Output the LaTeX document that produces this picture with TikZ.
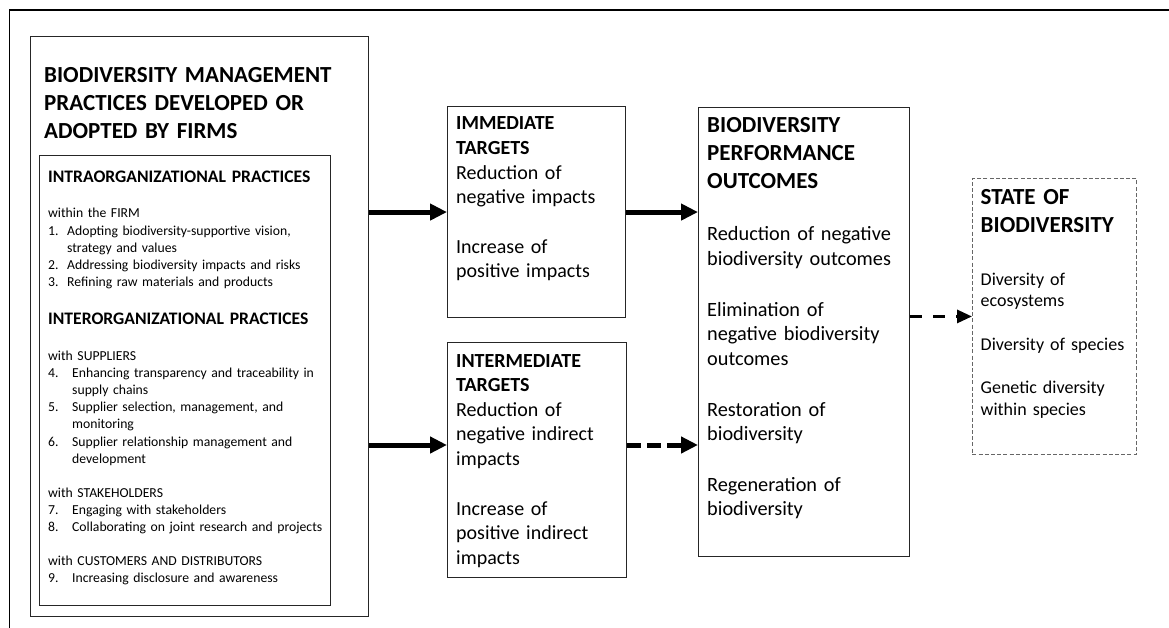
\documentclass[tikz,border=0pt]{standalone}
\usepackage{fontspec}
\setmainfont{Carlito}
\usetikzlibrary{arrows.meta}
\begin{document}
\begin{tikzpicture}[x=1pt,y=-1pt,
  box/.style={draw=black!85, line width=1.1pt, inner sep=0pt, anchor=north west},
  dbox/.style={draw=black!60, line width=0.9pt, dash pattern=on 4pt off 2.2pt, inner sep=0pt, anchor=north west},
  txt/.style={inner sep=0pt, anchor=base west, text width=#1},
  bigtitle/.style={txt=#1, font=\fontsize{23}{28}\selectfont\bfseries},
  subhead/.style={txt=#1, font=\fontsize{17.6}{20}\selectfont\bfseries},
  listtext/.style={txt=#1, font=\fontsize{13.7}{17.2}\selectfont},
  midtext/.style={txt=#1, font=\fontsize{20}{24.6}\selectfont},
  smalltext/.style={txt=#1, font=\fontsize{18}{21.7}\selectfont},
  thickarrow/.style={line width=5pt, -{Triangle[length=17pt,width=16pt]}},
  thickdash/.style={thickarrow, dash pattern=on 14pt off 6pt},
  thindash/.style={line width=3pt, dash pattern=on 12pt off 11pt, -{Triangle[length=15pt,width=13pt]}}
]
\useasboundingbox (0,0) rectangle (1169,628);
% outer frame (only top and left edges are visible)
\draw[line width=1.6pt] (9.5,628) -- (9.5,10) -- (1169,10);

% boxes
\node[box, minimum width=338pt, minimum height=580pt] (mgmt) at (30,36) {};
\node[box, line width=0.9pt, minimum width=291pt, minimum height=450pt] (inner) at (39,155) {};
\node[box, minimum width=178pt, minimum height=211pt] (imm) at (447,106) {};
\node[box, minimum width=179pt, minimum height=235pt] (inter) at (447,342) {};
\node[box, minimum width=211pt, minimum height=449pt] (outc) at (698,107) {};
\node[dbox, minimum width=164pt, minimum height=276pt] (state) at (972,178) {};

% texts of the management box
\node[bigtitle=318pt] (mgmtT) at (44,83) {BIODIVERSITY MANAGEMENT\\PRACTICES DEVELOPED OR\\ADOPTED BY FIRMS};
\node[subhead=280pt] (intraH) at (48,183) {INTRAORGANIZATIONAL PRACTICES};
\node[listtext=281pt] (intraL) at (48,218) {within the FIRM\\
\makebox[19pt][l]{1.}Adopting biodiversity-supportive vision,\\
\hspace*{19pt}strategy and values\\
\makebox[19pt][l]{2.}Addressing biodiversity impacts and risks\\
\makebox[19pt][l]{3.}Refining raw materials and products};
\node[subhead=280pt] (interH) at (48,324) {INTERORGANIZATIONAL PRACTICES};
\node[listtext=281pt] (interL) at (48,360) {with SUPPLIERS\\
\makebox[24pt][l]{4.}Enhancing transparency and traceability in\\
\hspace*{24pt}supply chains\\
\makebox[24pt][l]{5.}Supplier selection, management, and\\
\hspace*{24pt}monitoring\\
\makebox[24pt][l]{6.}Supplier relationship management and\\
\hspace*{24pt}development\\[16.6pt]
with STAKEHOLDERS\\
\makebox[24pt][l]{7.}Engaging with stakeholders\\
\makebox[24pt][l]{8.}Collaborating on joint research and projects\\[16.6pt]
with CUSTOMERS AND DISTRIBUTORS\\
\makebox[24pt][l]{9.}Increasing disclosure and awareness};

% targets
\node[midtext=166pt] (immT) at (456,130) {\textbf{IMMEDIATE}\\\textbf{TARGETS}\\Reduction of\\negative impacts\\[25pt]Increase of\\positive impacts};
\node[midtext=166pt] (interT) at (456,367) {\textbf{INTERMEDIATE}\\\textbf{TARGETS}\\Reduction of\\negative indirect\\impacts\\[25pt]Increase of\\positive indirect\\impacts};

% outcomes
\node[txt=198pt, font=\fontsize{23}{28}\selectfont\bfseries] (outcT) at (707,133) {BIODIVERSITY\\PERFORMANCE\\OUTCOMES};
\node[txt=198pt, font=\fontsize{20.3}{24.6}\selectfont] (outcB) at (707,241) {Reduction of negative\\biodiversity outcomes\\[26pt]Elimination of\\negative biodiversity\\outcomes\\[26pt]Restoration of\\biodiversity\\[26pt]Regeneration of\\biodiversity};

% state
\node[bigtitle=152pt] (stateT) at (980.5,205) {STATE OF\\BIODIVERSITY};
\node[smalltext=152pt] (stateB) at (980.5,285) {Diversity of\\ecosystems\\[21.6pt]Diversity of species\\[21.6pt]Genetic diversity\\within species};

% connectors
\coordinate (lvl2) at (0,445);
\draw[thickarrow] (mgmt.east |- imm.west) -- (imm.west);
\draw[thickarrow] (imm.east) -- (outc.west |- imm.east);
\draw[thickarrow] (mgmt.east |- lvl2) -- (inter.west |- lvl2);
\draw[thickdash] (inter.east |- lvl2) -- (outc.west |- lvl2);
\draw[thindash] (outc.east |- state.west) -- (state.west);
\end{tikzpicture}
\end{document}
